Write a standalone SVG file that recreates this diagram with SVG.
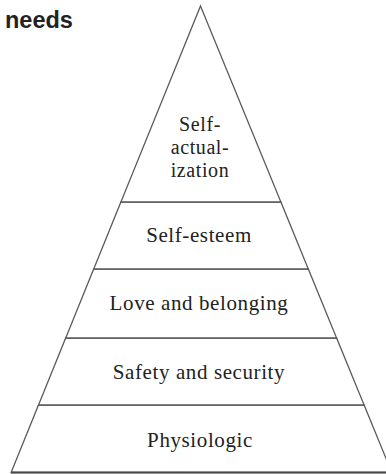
<svg xmlns="http://www.w3.org/2000/svg" width="386" height="474" viewBox="0 0 386 474">
<style>
.lvl{fill:#fff;stroke:#5a5a5a;stroke-width:1.3;stroke-linejoin:miter}
.t{font-family:"Liberation Serif","Times New Roman",serif;font-size:21px;fill:#222;text-anchor:middle;letter-spacing:0.6px}
.s{font-size:20px}
.h{font-family:"Liberation Sans",Arial,sans-serif;font-weight:bold;font-size:23.5px;fill:#222}
</style>
<rect width="386" height="474" fill="#fff"/>
<text class="h" x="5" y="28">needs</text>
<g id="physiologic">
<polygon class="lvl" points="38.5,405 364.1,405 391.8,472.5 11.1,472.5"/>
<line x1="11" y1="472.5" x2="392" y2="472.5" stroke="#4a4a4a" stroke-width="2"/>
<text class="t" x="200" y="447">Physiologic</text>
</g>
<g id="safety">
<polygon class="lvl" points="65.7,338 336.6,338 364.1,405 38.5,405"/>
<text class="t" x="199" y="379">Safety and security</text>
</g>
<g id="love">
<polygon class="lvl" points="93.7,269 308.3,269 336.6,338 65.7,338"/>
<text class="t" x="199" y="310">Love and belonging</text>
</g>
<g id="esteem">
<polygon class="lvl" points="120.9,202 280.9,202 308.3,269 93.7,269"/>
<text class="t" x="199" y="242">Self-esteem</text>
</g>
<g id="actualization">
<polygon class="lvl" points="200.5,6 280.9,202 120.9,202"/>
<text class="t s" x="200" y="131">Self-</text>
<text class="t s" x="200" y="154">actual-</text>
<text class="t s" x="200" y="177">ization</text>
</g>
</svg>
